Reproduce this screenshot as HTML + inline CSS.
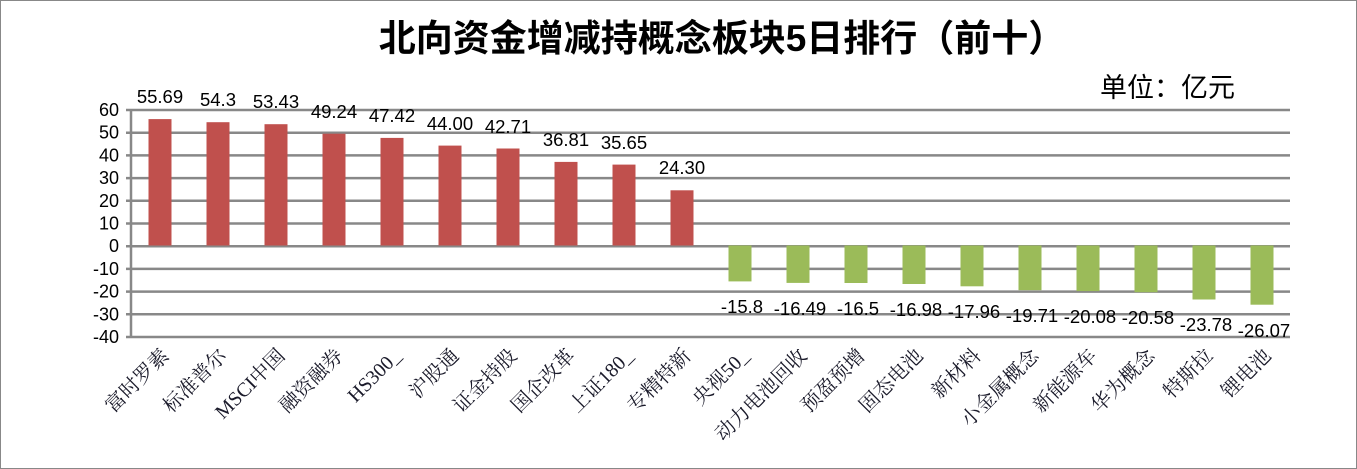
<!DOCTYPE html>
<html><head><meta charset="utf-8"><style>
body{margin:0;background:#fff}
svg{display:block}
text{font-family:"Liberation Sans","Noto Sans CJK SC",sans-serif}
.c text{font-family:"Liberation Serif","Noto Serif CJK SC",serif}
</style></head><body>
<svg width="1357" height="469" xmlns="http://www.w3.org/2000/svg">
<rect x="0.5" y="0.5" width="1356" height="468" fill="#fff" stroke="#888"/>
<text x="722" y="51" text-anchor="middle" font-size="37" font-weight="bold" fill="#000">北向资金增减持概念板块5日排行（前十）</text>
<text x="1100" y="97" font-size="27" fill="#000">单位：亿元</text>
<g stroke="#888" stroke-width="2.5">
<line x1="126" y1="110" x2="1290" y2="110"/><line x1="126" y1="132.7" x2="1290" y2="132.7"/>
<line x1="126" y1="155.4" x2="1290" y2="155.4"/><line x1="126" y1="178.1" x2="1290" y2="178.1"/>
<line x1="126" y1="200.8" x2="1290" y2="200.8"/><line x1="126" y1="223.5" x2="1290" y2="223.5"/>
<line x1="126" y1="246.2" x2="1290" y2="246.2"/><line x1="126" y1="268.9" x2="1290" y2="268.9"/>
<line x1="126" y1="291.6" x2="1290" y2="291.6"/><line x1="126" y1="314.3" x2="1290" y2="314.3"/>
<line x1="126" y1="337" x2="1290" y2="337"/>
<line x1="131" y1="109" x2="131" y2="338"/>
</g>
<g font-size="18" text-anchor="end" fill="#000">
<text x="119" y="116">60</text><text x="119" y="138.7">50</text><text x="119" y="161.4">40</text>
<text x="119" y="184.1">30</text><text x="119" y="206.8">20</text><text x="119" y="229.5">10</text>
<text x="119" y="252.2">0</text><text x="119" y="274.9">-10</text><text x="119" y="297.6">-20</text>
<text x="119" y="320.3">-30</text><text x="119" y="343">-40</text>
</g>
<g fill="#c0504d">
<rect x="148.5" y="119.1" width="23" height="126.4"/>
<rect x="206.5" y="122.2" width="23" height="123.3"/>
<rect x="264.5" y="124.2" width="23" height="121.3"/>
<rect x="322.5" y="133.7" width="23" height="111.8"/>
<rect x="380.5" y="137.9" width="23" height="107.6"/>
<rect x="438.5" y="145.6" width="23" height="99.9"/>
<rect x="496.5" y="148.5" width="23" height="97"/>
<rect x="554.5" y="161.9" width="23" height="83.6"/>
<rect x="612.5" y="164.6" width="23" height="80.9"/>
<rect x="670.5" y="190.3" width="23" height="55.2"/>
</g>
<g fill="#9bbb59">
<rect x="728.5" y="245.5" width="23" height="35.9"/>
<rect x="786.5" y="245.5" width="23" height="37.4"/>
<rect x="844.5" y="245.5" width="23" height="37.5"/>
<rect x="902.5" y="245.5" width="23" height="38.5"/>
<rect x="960.5" y="245.5" width="23" height="40.8"/>
<rect x="1018.5" y="245.5" width="23" height="44.7"/>
<rect x="1076.5" y="245.5" width="23" height="45.6"/>
<rect x="1134.5" y="245.5" width="23" height="46.7"/>
<rect x="1192.5" y="245.5" width="23" height="54"/>
<rect x="1250.5" y="245.5" width="23" height="59.2"/>
</g>
<g font-size="18.5" text-anchor="middle" fill="#000">
<text x="160" y="103">55.69</text><text x="218" y="106">54.3</text><text x="276" y="108">53.43</text>
<text x="334" y="118">49.24</text><text x="392" y="122">47.42</text><text x="450" y="130">44.00</text>
<text x="508" y="133">42.71</text><text x="566" y="146">36.81</text><text x="624" y="149">35.65</text>
<text x="682" y="174">24.30</text>
<text x="742" y="313">-15.8</text><text x="800" y="315">-16.49</text><text x="858" y="315">-16.5</text>
<text x="916" y="316">-16.98</text><text x="974" y="318">-17.96</text><text x="1032" y="322">-19.71</text>
<text x="1090" y="323">-20.08</text><text x="1148" y="324">-20.58</text><text x="1206" y="331">-23.78</text>
<text x="1264" y="337">-26.07</text>
</g>
<g class="c" font-size="20" text-anchor="end" fill="#1a1a2a">
<text transform="translate(170,357) rotate(-45)">富时罗素</text>
<text transform="translate(228,357) rotate(-45)">标准普尔</text>
<text transform="translate(286,357) rotate(-45)">MSCI中国</text>
<text transform="translate(344,357) rotate(-45)">融资融券</text>
<text transform="translate(402,357) rotate(-45)">HS300_</text>
<text transform="translate(460,357) rotate(-45)">沪股通</text>
<text transform="translate(518,357) rotate(-45)">证金持股</text>
<text transform="translate(576,357) rotate(-45)">国企改革</text>
<text transform="translate(634,357) rotate(-45)">上证180_</text>
<text transform="translate(692,357) rotate(-45)">专精特新</text>
<text transform="translate(750,357) rotate(-45)">央视50_</text>
<text transform="translate(808,357) rotate(-45)">动力电池回收</text>
<text transform="translate(866,357) rotate(-45)">预盈预增</text>
<text transform="translate(924,357) rotate(-45)">固态电池</text>
<text transform="translate(982,357) rotate(-45)">新材料</text>
<text transform="translate(1040,357) rotate(-45)">小金属概念</text>
<text transform="translate(1098,357) rotate(-45)">新能源车</text>
<text transform="translate(1156,357) rotate(-45)">华为概念</text>
<text transform="translate(1214,357) rotate(-45)">特斯拉</text>
<text transform="translate(1272,357) rotate(-45)">锂电池</text>
</g>
</svg>
</body></html>
